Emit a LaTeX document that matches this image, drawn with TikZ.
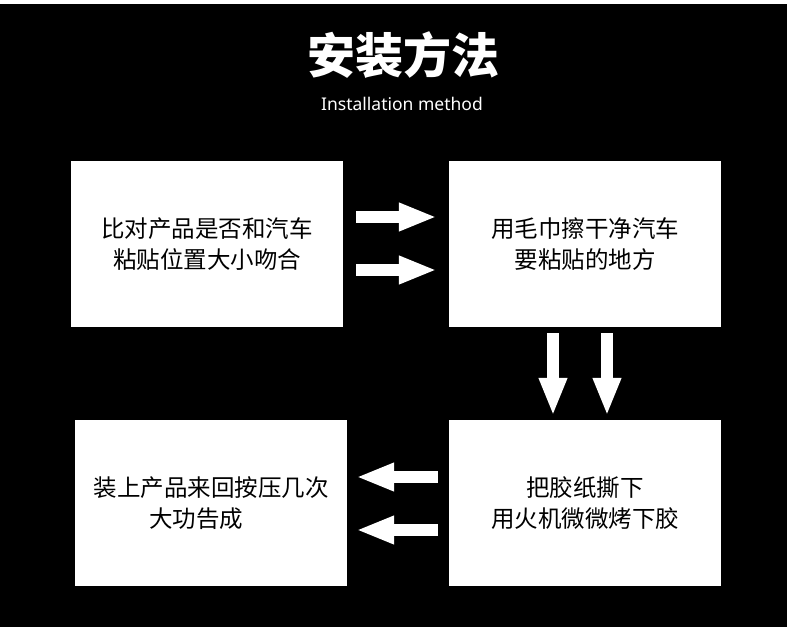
\documentclass[tikz,border=0pt]{standalone}
\usepackage{fontspec}
\setmainfont{Noto Sans}
\newfontfamily\cjk{Noto Sans CJK SC}
\usetikzlibrary{arrows.meta,positioning}

\begin{document}
\begin{tikzpicture}[x=1pt, y=-1pt,
  stepbox/.style={fill=white, minimum width=272pt, minimum height=166pt, inner sep=0pt,
    align=center, font=\cjk\fontsize{23.5}{31}\selectfont},
  blockarrow/.style={draw=white, line width=12pt, -{Triangle[length=38pt,width=26pt]}}]
  % page and black panel
  \fill[white] (0,0) rectangle (790,643);
  \fill[black] (0,4) rectangle (787,627);
  \node[white, font=\cjk\bfseries\fontsize{48}{52}\selectfont] (title) at (403,55) {安装方法};
  \node[white, font=\fontsize{17.5}{20}\selectfont] (subtitle) at (402,104) {Installation method};
  % the four steps
  \node[stepbox] (compare) at (207,244) {比对产品是否和汽车\\粘贴位置大小吻合};
  \node[stepbox] (clean) at (585,244) {用毛巾擦干净汽车\\要粘贴的地方};
  \node[stepbox] (peel) at (585,503) {把胶纸撕下\\用火机微微烤下胶};
  \node[stepbox] (press) at (211,503) {装上产品来回按压几次\\大功告成\hspace*{30pt}};
  % arrows between steps
  \draw[blockarrow, shorten <=13pt, shorten >=12pt] ([yshift=27pt]compare.east) -- ([yshift=27pt]clean.west);
  \draw[blockarrow, shorten <=13pt, shorten >=12pt] ([yshift=-26pt]compare.east) -- ([yshift=-26pt]clean.west);
  \draw[blockarrow, shorten <=6pt, shorten >=4pt] ([xshift=-32pt]clean.south) -- ([xshift=-32pt]peel.north);
  \draw[blockarrow, shorten <=6pt, shorten >=4pt] ([xshift=22pt]clean.south) -- ([xshift=22pt]peel.north);
  \draw[blockarrow, shorten <=11pt, shorten >=9pt] ([yshift=26pt]peel.west) -- ([yshift=26pt]press.east);
  \draw[blockarrow, shorten <=11pt, shorten >=9pt] ([yshift=-27pt]peel.west) -- ([yshift=-27pt]press.east);
\end{tikzpicture}
\end{document}
